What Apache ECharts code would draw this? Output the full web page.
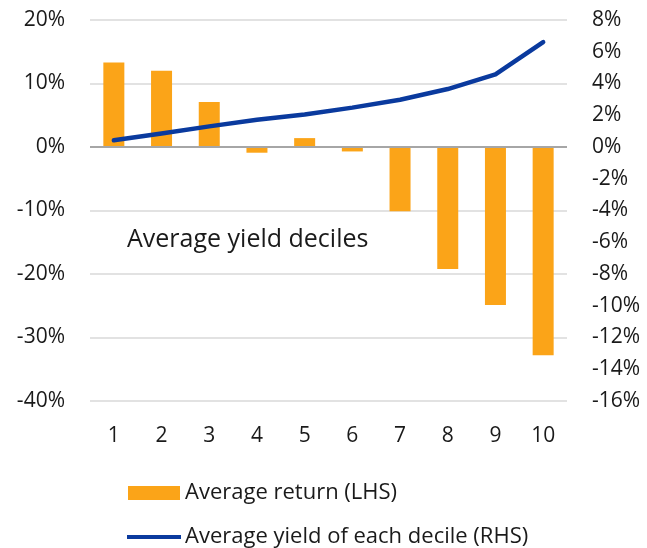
<!DOCTYPE html>
<html>
<head>
<meta charset="utf-8">
<script src="https://cdn.jsdelivr.net/npm/echarts@6/dist/echarts.min.js"></script>
<style>
  html, body { margin: 0; padding: 0; background: #fff; }
  #chart { width: 647px; height: 548px; }
</style>
</head>
<body>
<div id="chart"></div>
<script>
// deciles
var deciles = ['1', '2', '3', '4', '5', '6', '7', '8', '9', '10'];
// average return, % (LHS)
var avgReturn = [13.3, 12.0, 7.1, -0.9, 1.4, -0.7, -10.1, -19.2, -24.9, -32.8];
// average yield of each decile, % (RHS)
var avgYield = [0.42, 0.85, 1.3, 1.72, 2.05, 2.48, 2.98, 3.65, 4.58, 6.61];

var font = 'Open Sans';
var txt = '#1a1a1a';

var myChart = echarts.init(document.getElementById('chart'));

var option = {
    animation: false,
    textStyle: { fontFamily: font },
    title: {
        text: 'Average yield deciles',
        left: 122,
        top: 222,
        textStyle: { fontFamily: font, fontSize: 25, fontWeight: 'normal', color: txt }
    },
    legend: [
        {
            left: 123,
            top: 477,
            itemWidth: 52,
            itemHeight: 14,
            textStyle: { fontFamily: font, fontSize: 22, color: txt, padding: [0, 0, 0, 0] },
            data: [{ name: 'Average return (LHS)', icon: 'rect' }]
        },
        {
            left: 122,
            top: 521,
            itemWidth: 54,
            itemHeight: 4,
            textStyle: { fontFamily: font, fontSize: 22, color: txt, padding: [0, 0, 0, -1] },
            data: [{ name: 'Average yield of each decile (RHS)', icon: 'path://M0,0 L54,0 L54,4 L0,4 Z' }]
        }
    ],
    grid: {     //绘图区位置
        left: 90,
        right: 80,
        top: 20,
        bottom: 147
    },
    xAxis: {
        type: 'category',
        data: deciles,
        axisLine: { show: false, onZero: false },
        axisTick: { show: false },
        axisLabel: { color: txt, fontSize: 21, margin: 25, fontFamily: font }
    },
    yAxis: [
        {
            type: 'value',
            min: -40,
            max: 20,
            interval: 10,
            axisLabel: { color: txt, fontSize: 21, margin: 25, align: 'right', fontFamily: font, formatter: '{value}%' },
            axisLine: { show: false },
            axisTick: { show: false },
            splitLine: { lineStyle: { color: '#d9d9d9', width: 1.5 } }
        },
        {
            type: 'value',
            min: -16,
            max: 8,
            interval: 2,
            axisLabel: { color: txt, fontSize: 21, margin: 25, align: 'left', fontFamily: font, formatter: '{value}%' },
            axisLine: { show: false },
            axisTick: { show: false },
            splitLine: { show: false }
        }
    ],
    series: [
        {
            name: 'Average return (LHS)',
            type: 'bar',
            data: avgReturn,
            barWidth: 21,
            itemStyle: { color: '#fba418' },
            markLine: {     // 零线
                silent: true,
                symbol: 'none',
                label: { show: false },
                lineStyle: { color: '#a6a6a6', width: 2, type: 'solid' },
                data: [{ yAxis: 0 }]
            },
            z: 2
        },
        {
            name: 'Average yield of each decile (RHS)',
            type: 'line',
            yAxisIndex: 1,
            data: avgYield,
            symbol: 'none',
            lineStyle: { color: '#0a3a9e', width: 4.5, cap: 'round', join: 'round' },
            itemStyle: { color: '#0a3a9e' },
            z: 3
        }
    ]
};

myChart.setOption(option);
</script>
</body>
</html>
